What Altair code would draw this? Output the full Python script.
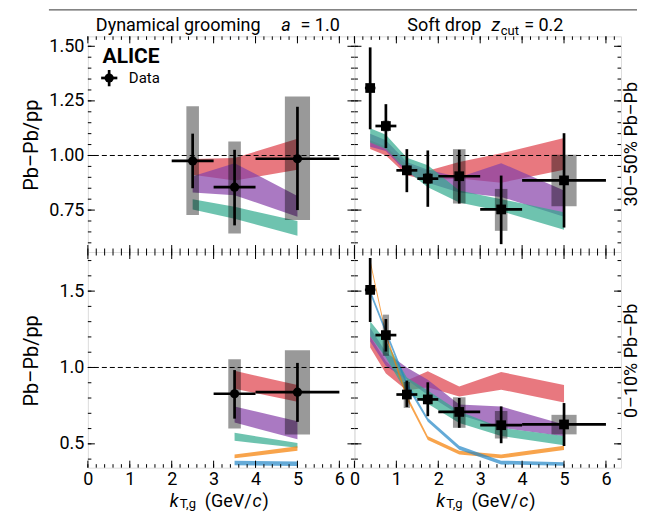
import altair as alt
import pandas as pd

# ---------------- data ----------------
# k_T,g bins (GeV/c)
DG_X = [2.5, 3.5, 5.0]
DG_XLO = [2.0, 3.0, 4.0]
DG_XHI = [3.0, 4.0, 6.0]
DG10_X = [3.5, 5.0]
DG10_XLO = [3.0, 4.0]
DG10_XHI = [4.0, 6.0]
SD_X = [0.375, 0.75, 1.25, 1.75, 2.5, 3.5, 5.0]
SD_XLO = [0.25, 0.5, 1.0, 1.5, 2.0, 3.0, 4.0]
SD_XHI = [0.5, 1.0, 1.5, 2.0, 3.0, 4.0, 6.0]

# 30-50% Pb-Pb, dynamical grooming a = 1.0
DG30_Y = [0.975, 0.855, 0.985]
DG30_STAT_LO = [0.85, 0.68, 0.75]
DG30_STAT_HI = [1.10, 1.026, 1.223]
DG30_SYS_LO = [0.727, 0.643, 0.705]
DG30_SYS_HI = [1.225, 1.064, 1.27]
DG30_RED_LO = [0.912, 0.885, 0.935]
DG30_RED_HI = [0.984, 0.988, 1.077]
DG30_PURPLE_LO = [0.83, 0.818, 0.72]
DG30_PURPLE_HI = [0.905, 0.965, 0.815]
DG30_TEAL_LO = [0.753, 0.71, 0.632]
DG30_TEAL_HI = [0.80, 0.765, 0.70]

# 30-50% Pb-Pb, soft drop z_cut = 0.2
SD30_Y = [1.309, 1.135, 0.932, 0.894, 0.905, 0.753, 0.886]
SD30_STAT_LO = [1.12, 1.034, 0.832, 0.765, 0.78, 0.594, 0.67]
SD30_STAT_HI = [1.495, 1.235, 1.029, 1.023, 1.026, 0.908, 1.102]
SD30_SYS_LO = [1.29, 1.11, 0.91, 0.87, 0.78, 0.655, 0.768]
SD30_SYS_HI = [1.33, 1.16, 0.955, 0.92, 1.029, 0.847, 1.003]
SD30_RED_LO = [1.03, 1.0, 0.91, 0.885, 0.895, 0.875, 0.935]
SD30_RED_HI = [1.07, 1.04, 0.955, 0.93, 0.97, 1.01, 1.08]
SD30_PURPLE_LO = [1.04, 1.02, 0.92, 0.875, 0.83, 0.81, 0.72]
SD30_PURPLE_HI = [1.10, 1.07, 0.97, 0.935, 0.90, 0.965, 0.84]
SD30_TEAL_LO = [1.06, 1.03, 0.93, 0.855, 0.785, 0.745, 0.66]
SD30_TEAL_HI = [1.125, 1.095, 0.99, 0.955, 0.84, 0.80, 0.74]

# 0-10% Pb-Pb, dynamical grooming a = 1.0
DG10_Y = [0.828, 0.838]
DG10_STAT_LO = [0.665, 0.644]
DG10_STAT_HI = [0.983, 1.03]
DG10_SYS_LO = [0.60, 0.562]
DG10_SYS_HI = [1.054, 1.113]
DG10_RED_LO = [0.86, 0.775]
DG10_RED_HI = [0.978, 0.886]
DG10_PURPLE_LO = [0.64, 0.53]
DG10_PURPLE_HI = [0.745, 0.648]
DG10_TEAL_LO = [0.52, 0.475]
DG10_TEAL_HI = [0.572, 0.505]
DG10_ORANGE_LO = [0.405, 0.455]
DG10_ORANGE_HI = [0.43, 0.485]
DG10_BLUE_LO = [0.36, 0.355]
DG10_BLUE_HI = [0.39, 0.385]

# 0-10% Pb-Pb, soft drop z_cut = 0.2
SD10_Y = [1.508, 1.212, 0.823, 0.791, 0.709, 0.622, 0.627]
SD10_STAT_LO = [1.298, 1.104, 0.741, 0.681, 0.605, 0.504, 0.486]
SD10_STAT_HI = [1.717, 1.317, 0.914, 0.903, 0.80, 0.745, 0.767]
SD10_SYS_LO = [1.48, 1.076, 0.735, 0.76, 0.605, 0.535, 0.562]
SD10_SYS_HI = [1.535, 1.346, 0.905, 0.82, 0.805, 0.715, 0.69]
SD10_RED_LO = [1.13, 0.96, 0.85, 0.87, 0.81, 0.855, 0.77]
SD10_RED_HI = [1.205, 1.04, 0.915, 0.975, 0.875, 0.97, 0.886]
SD10_PURPLE_LO = [1.17, 1.01, 0.92, 0.82, 0.69, 0.605, 0.55]
SD10_PURPLE_HI = [1.26, 1.10, 1.0, 0.92, 0.758, 0.745, 0.627]
SD10_TEAL_LO = [1.205, 1.065, 0.83, 0.763, 0.637, 0.551, 0.491]
SD10_TEAL_HI = [1.302, 1.173, 0.935, 0.849, 0.713, 0.605, 0.551]
SD10_ORANGE_LO = [1.68, 1.2, 0.79, 0.525, 0.43, 0.405, 0.46]
SD10_ORANGE_HI = [1.71, 1.23, 0.82, 0.55, 0.455, 0.43, 0.488]
SD10_BLUE_LO = [1.48, 1.22, 0.875, 0.645, 0.462, 0.365, 0.357]
SD10_BLUE_HI = [1.51, 1.25, 0.905, 0.67, 0.487, 0.39, 0.38]

# axis ticks
X_MAJOR = [0, 1, 2, 3, 4, 5, 6]
X_MINOR = [round(i * 0.2, 2) for i in range(32)]
TOP_Y_MAJOR = [0.75, 1.0, 1.25, 1.5]
TOP_Y_MINOR = [round(0.6 + i * 0.05, 2) for i in range(19)]
BOT_Y_MAJOR = [0.5, 1.0, 1.5]
BOT_Y_MINOR = [round(0.4 + i * 0.1, 2) for i in range(14)]

# ---------------- styling ----------------
FONT = "Roboto, sans-serif"
C_RED = "#de3e48"
C_PURPLE = "#8640a8"
C_TEAL = "#30a98d"
C_ORANGE = "#f57e00"
C_BLUE = "#2286c6"
BAND_OPACITY = 0.7
W, H = 267, 216
XDOM = [0, 6.36]
TOP_YDOM = [0.558, 1.5455]
BOT_YDOM = [0.344, 1.756]
MAJ_LEN, MIN_LEN = 7, 3.5


def text_layer(txt, x, y, size=20, style="normal", weight="normal", align="left",
               baseline="alphabetic", angle=0):
    return alt.Chart(pd.DataFrame({"t": [txt]})).mark_text(
        font=FONT, fontSize=size, fontStyle=style, fontWeight=weight, align=align,
        baseline=baseline, angle=angle, color="black"
    ).encode(x=alt.value(x), y=alt.value(y), text="t:N")


def panel(x, xlo, xhi, y, slo, shi, blo, bhi, bands, ydom, ymaj, ymin, yfmt,
          shape, left, bottom, extra):
    xs = alt.Scale(domain=XDOM, nice=False, zero=False)
    ys = alt.Scale(domain=ydom, nice=False, zero=False)
    xaxis = (alt.Axis(values=X_MAJOR, format="d", labelFont=FONT, labelFontSize=18,
                      labelColor="black", ticks=False, domain=False, grid=False,
                      labelPadding=3, title=None, labelFlush=False)
             if bottom else None)
    yaxis = (alt.Axis(values=ymaj, format=yfmt, labelFont=FONT, labelFontSize=18,
                      labelColor="black", ticks=False, domain=False, grid=False,
                      labelPadding=4, title=None, labelFlush=False)
             if left else None)

    def X(f):
        return alt.X(f, type="quantitative", scale=xs, axis=xaxis)

    def Y(f):
        return alt.Y(f, type="quantitative", scale=ys, axis=yaxis)

    layers = []
    for color, lo, hi in bands:
        bdf = pd.DataFrame({"x": x, "lo": lo, "hi": hi})
        layers.append(alt.Chart(bdf).mark_area(color=color, opacity=BAND_OPACITY,
                                               strokeWidth=0)
                      .encode(x=X("x"), y=Y("lo"), y2="hi"))
    layers.append(alt.Chart(pd.DataFrame({"v": [1.0]}))
                  .mark_rule(color="black", strokeDash=[5, 3], strokeWidth=1)
                  .encode(y=Y("v")))
    df = pd.DataFrame({"x": x, "xlo": xlo, "xhi": xhi, "y": y, "slo": slo,
                       "shi": shi, "blo": blo, "bhi": bhi})
    df["bx1"] = df["x"] - 0.15 * (df["xhi"] - df["xlo"])
    df["bx2"] = df["x"] + 0.15 * (df["xhi"] - df["xlo"])
    base = alt.Chart(df)
    layers.append(base.mark_rect(color="black", opacity=0.4)
                  .encode(x=X("bx1"), x2="bx2", y=Y("blo"), y2="bhi"))
    layers.append(base.mark_rule(color="black", strokeWidth=2.7)
                  .encode(x=X("x"), y=Y("slo"), y2="shi"))
    layers.append(base.mark_rule(color="black", strokeWidth=2.7)
                  .encode(x=X("xlo"), x2="xhi", y=Y("y")))
    layers.append(base.mark_point(shape=shape, filled=True, color="black", opacity=1,
                                  size=85 if shape == "circle" else 95)
                  .encode(x=X("x"), y=Y("y")))

    # inward ticks on all four sides
    def in_dom(vals, dom):
        return [v for v in vals if dom[0] <= v <= dom[1]]

    for vals, ln in ((ymaj, MAJ_LEN), (ymin, MIN_LEN)):
        tdf = pd.DataFrame({"v": in_dom(vals, ydom)})
        layers.append(alt.Chart(tdf).mark_rule(color="black", strokeWidth=1)
                      .encode(y=Y("v"), x=alt.value(0), x2=alt.value(ln)))
        layers.append(alt.Chart(tdf).mark_rule(color="black", strokeWidth=1)
                      .encode(y=Y("v"), x=alt.value(W - ln), x2=alt.value(W)))
    for vals, ln in ((X_MAJOR, MAJ_LEN), (X_MINOR, MIN_LEN)):
        tdf = pd.DataFrame({"v": in_dom(vals, XDOM)})
        layers.append(alt.Chart(tdf).mark_rule(color="black", strokeWidth=1)
                      .encode(x=X("v"), y=alt.value(0), y2=alt.value(ln)))
        layers.append(alt.Chart(tdf).mark_rule(color="black", strokeWidth=1)
                      .encode(x=X("v"), y=alt.value(H - ln), y2=alt.value(H)))

    if left:
        layers.append(text_layer("Pb–Pb/pp", -55.5, 109, angle=270, align="center",
                                 baseline="middle"))
    if bottom:
        layers.append(text_layer("k", 82, 255, size=18, style="italic"))
        layers.append(text_layer("T,g", 92, 256.5, size=13))
        layers.append(text_layer("(GeV/", 164, 255, size=18, align="right"))
        layers.append(text_layer("c", 165, 255, size=18, style="italic"))
        layers.append(text_layer(")", 175, 255, size=18))
    layers.extend(extra)
    return alt.layer(*layers).properties(width=W, height=H)


# annotations
anchor = (alt.Chart(pd.DataFrame({"a": [0]})).mark_rule(opacity=0, strokeOpacity=0)
          .encode(x=alt.value(-79), x2=alt.value(-78), y=alt.value(-27), y2=alt.value(-26)))
top_line = (alt.Chart(pd.DataFrame({"a": [0]})).mark_rule(color="#333", strokeWidth=1)
            .encode(x=alt.value(-39), x2=alt.value(550), y=alt.value(-26.5)))
legend_df = pd.DataFrame({"a": [0]})
leg_v = (alt.Chart(legend_df).mark_rule(color="black", strokeWidth=2.7)
         .encode(x=alt.value(21.3), y=alt.value(33.7), y2=alt.value(50)))
leg_h = (alt.Chart(legend_df).mark_rule(color="black", strokeWidth=2.7)
         .encode(x=alt.value(13.3), x2=alt.value(29.5), y=alt.value(41.7)))
leg_p = (alt.Chart(legend_df).mark_point(shape="circle", filled=True, color="black",
                                          opacity=1, size=85)
         .encode(x=alt.value(21.3), y=alt.value(41.7)))

tl_extra = [
    anchor, top_line,
    text_layer("Dynamical grooming", 173, -5, size=18, align="right"),
    text_layer("a", 198.5, -5, size=18, style="italic", align="center"),
    text_layer("= 1.0", 213, -5, size=18),
    text_layer("ALICE", 14.7, 26.7, size=21, weight="bold"),
    leg_v, leg_h, leg_p,
    text_layer("Data", 41, 42, size=15, baseline="middle"),
]
tr_extra = [
    text_layer("Soft drop", 127, -5, size=18, align="right"),
    text_layer("z", 141.5, -5, size=18, style="italic", align="center"),
    text_layer("cut", 146.5, -1.5, size=13),
    text_layer("= 0.2", 170, -5, size=18),
    text_layer("30–50% Pb–Pb", 286.5, 108, size=18, angle=270, align="center",
               baseline="bottom"),
]
br_extra = [
    text_layer("0–10% Pb–Pb", 286.5, 109, size=18, angle=270, align="center",
               baseline="bottom"),
]

tl = panel(DG_X, DG_XLO, DG_XHI, DG30_Y, DG30_STAT_LO, DG30_STAT_HI, DG30_SYS_LO,
           DG30_SYS_HI,
           [(C_RED, DG30_RED_LO, DG30_RED_HI), (C_PURPLE, DG30_PURPLE_LO, DG30_PURPLE_HI),
            (C_TEAL, DG30_TEAL_LO, DG30_TEAL_HI)],
           TOP_YDOM, TOP_Y_MAJOR, TOP_Y_MINOR, ".2f", "circle", True, False, tl_extra)
tr = panel(SD_X, SD_XLO, SD_XHI, SD30_Y, SD30_STAT_LO, SD30_STAT_HI, SD30_SYS_LO,
           SD30_SYS_HI,
           [(C_RED, SD30_RED_LO, SD30_RED_HI), (C_PURPLE, SD30_PURPLE_LO, SD30_PURPLE_HI),
            (C_TEAL, SD30_TEAL_LO, SD30_TEAL_HI)],
           TOP_YDOM, TOP_Y_MAJOR, TOP_Y_MINOR, ".2f", "square", False, False, tr_extra)
bl = panel(DG10_X, DG10_XLO, DG10_XHI, DG10_Y, DG10_STAT_LO, DG10_STAT_HI, DG10_SYS_LO,
           DG10_SYS_HI,
           [(C_RED, DG10_RED_LO, DG10_RED_HI), (C_PURPLE, DG10_PURPLE_LO, DG10_PURPLE_HI),
            (C_TEAL, DG10_TEAL_LO, DG10_TEAL_HI), (C_ORANGE, DG10_ORANGE_LO, DG10_ORANGE_HI),
            (C_BLUE, DG10_BLUE_LO, DG10_BLUE_HI)],
           BOT_YDOM, BOT_Y_MAJOR, BOT_Y_MINOR, ".1f", "circle", True, True, [])
br = panel(SD_X, SD_XLO, SD_XHI, SD10_Y, SD10_STAT_LO, SD10_STAT_HI, SD10_SYS_LO,
           SD10_SYS_HI,
           [(C_RED, SD10_RED_LO, SD10_RED_HI), (C_PURPLE, SD10_PURPLE_LO, SD10_PURPLE_HI),
            (C_TEAL, SD10_TEAL_LO, SD10_TEAL_HI), (C_ORANGE, SD10_ORANGE_LO, SD10_ORANGE_HI),
            (C_BLUE, SD10_BLUE_LO, SD10_BLUE_HI)],
           BOT_YDOM, BOT_Y_MAJOR, BOT_Y_MINOR, ".1f", "square", False, True, br_extra)

chart = (alt.concat(tl, tr, bl, br, columns=2, spacing=0, bounds="flush")
         .properties(padding={"left": 0, "top": 0, "right": 0, "bottom": 0})
         .configure_view(stroke="#111", strokeWidth=1.4)
         .configure(background="white"))

chart.save("out.html", embed_options={"renderer": "svg", "actions": False})
